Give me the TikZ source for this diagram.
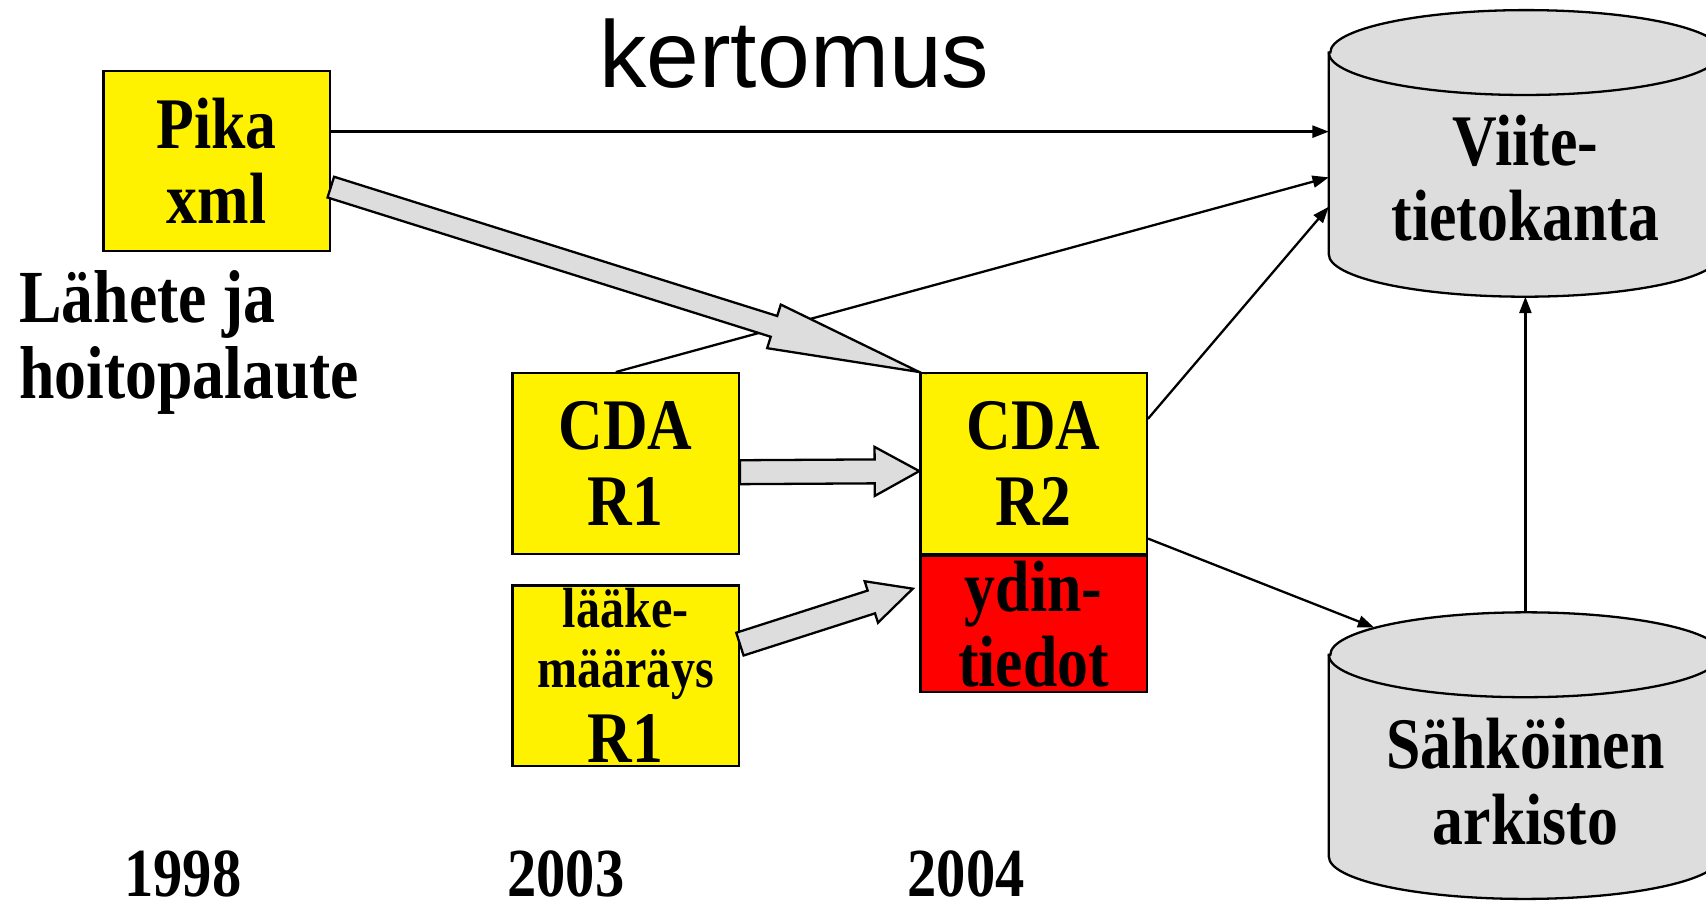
\documentclass[tikz,border=0pt]{standalone}
\usepackage{fontspec}
\setmainfont{Liberation Serif}
\newfontfamily\condfont{Liberation Serif}[FakeStretch=0.85]
\newfontfamily\titlefont{Liberation Sans}
\usepackage{tikz}
\usetikzlibrary{arrows.meta,positioning,calc}
\definecolor{dbgray}{HTML}{DDDDDD}

% broad grey arrow: tail, tip, head length, head half width, shaft half width
\newcommand\fatarrow[5]{%
  \draw[fat] let \p1=(#1), \p2=(#2),
      \n1={atan2(\y2-\y1,\x2-\x1)}, \n2={veclen(\x2-\x1,\y2-\y1)} in
    ($(\p1)+(\n1+90:#5)$) -- ++(\n1:\n2-#3) -- ++(\n1+90:#4-#5) -- (\p2)
    -- ($(\p2)+(\n1+180:#3)+(\n1-90:#4)$) -- ++(\n1+90:#4-#5)
    -- ($(\p1)+(\n1-90:#5)$) -- cycle;}

\begin{document}
\begin{tikzpicture}[
    big/.style={font=\condfont\bfseries\fontsize{19pt}{19.7pt}\selectfont},
    box/.style={big, draw, line width=0.6pt, fill=yellow, minimum width=20.8mm,
      minimum height=16.6mm, inner sep=0pt, align=center},
    core/.style={box, fill=red, minimum height=12.5mm},
    db/.style={minimum width=36mm, minimum height=18.4mm, inner sep=0pt},
    dbline/.style={draw, line width=0.6pt, fill=dbgray},
    dbtext/.style={big, align=center},
    year/.style={anchor=base, font=\condfont\bfseries\fontsize{18pt}{19pt}\selectfont},
    ar/.style={-{Triangle[length=1.5mm, width=1.1mm]}, line width=0.6pt},
    fat/.style={draw, line width=0.6pt, fill=dbgray, line join=miter},
  ]
    \useasboundingbox (0,0) rectangle (15.68,8.28);
    \clip (0,0) rectangle (15.68,8.28);
    % Title
    \node[anchor=base, font=\titlefont\fontsize{24.8pt}{26pt}\selectfont]
      (title) at (7.30,7.48) {kertomus};
    % Documents
    \node[box]  (pika)  at (1.99,6.80) {Pika\\xml};
    \node[big, anchor=west, align=left, inner sep=0pt,
      font=\condfont\bfseries\fontsize{19.6pt}{19.9pt}\selectfont]
      (lahete) at (0.17,5.13) {Lähete ja\\hoitopalaute};
    \node[box]  (cdaA)  at (5.75,4.02) {CDA\\R1};
    \node[box]  (laake) at (5.75,2.07)
      {\fontsize{14.8pt}{15pt}\selectfont lääke-\\[-4pt]
       \fontsize{14.8pt}{15pt}\selectfont määräys\\[0pt] R1};
    \node[box]  (cdaB)  at (9.50,4.02) {CDA\\R2};
    \node[core, below=0pt of cdaB] (ydin) {ydin-\\tiedot};
    % Databases (cylinders drawn round the body nodes)
    \node[db] (viite) at (14.02,6.87) {};
    \node[db] (sahko) at (14.02,1.335) {};
    \foreach \db in {viite,sahko}{
      \draw[dbline] (\db.north west) -- (\db.south west)
        arc[start angle=180, end angle=360, x radius=18mm, y radius=3.9mm]
        -- (\db.north east)
        arc[start angle=0, end angle=180, x radius=18mm, y radius=3.9mm] -- cycle;
      \draw[line width=0.6pt] (\db.north west)
        arc[start angle=180, end angle=360, x radius=18mm, y radius=3.9mm];
    }
    \node[dbtext] (viitetxt) at ([yshift=-2.3mm]viite.center) {Viite-\\tietokanta};
    \node[dbtext] (sahkotxt) at ([yshift=-2.4mm]sahko.center) {Sähköinen\\arkisto};
    % Years
    \node[year] (y98) at (1.68,0.04) {1998};
    \node[year] (y03) at (5.20,0.04) {2003};
    \node[year] (y04) at (8.88,0.04) {2004};
    % Thin arrows
    \coordinate (pikaout) at ([yshift=2.7mm]pika.east);
    \draw[ar] (pikaout) -- (pikaout -| viite.west);
    \draw[ar] ([xshift=-0.9mm]cdaA.north) -- ([yshift=-2.2mm]viite.west);
    \draw[ar] ([yshift=4.1mm]cdaB.east) -- ([yshift=-4.9mm]viite.west);
    \draw[ar] ([yshift=-6.9mm]cdaB.east) -- ($(sahko.north)+(-1.39,0.25)$);
    \draw[ar] ([yshift=3.9mm]sahko.north) -- ([yshift=-3.9mm]viite.south);
    % Broad arrows
    \fatarrow{[yshift=-2.4mm]pika.east}{cdaB.north west}{1.4cm}{2.1mm}{1.0mm}
    \fatarrow{[yshift=-0.8mm]cdaA.east}{[yshift=-0.7mm]cdaB.west}{4.1mm}{2.25mm}{1.1mm}
    \fatarrow{[yshift=2.9mm]laake.east}{[xshift=-0.6mm,yshift=-3.1mm]ydin.north west}{4mm}{2mm}{1.1mm}
  \end{tikzpicture}
\end{document}
